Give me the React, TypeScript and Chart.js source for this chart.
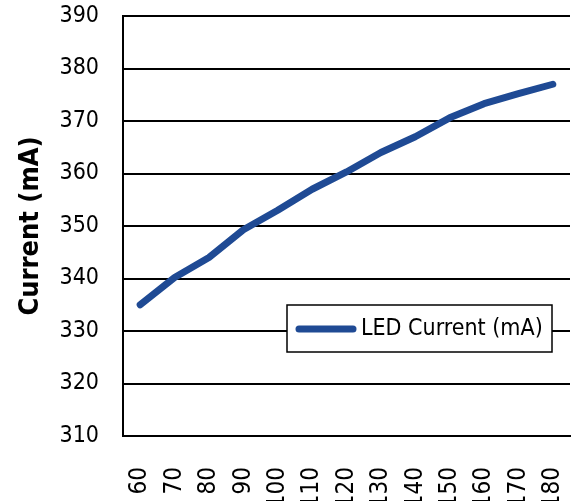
import React, { useEffect, useRef } from "react";
import { Chart, registerables } from "chart.js";

Chart.register(...registerables);

const categories = ["60", "70", "80", "90", "100", "110", "120", "130", "140", "150", "160", "170", "180"];
const currentValues = [335, 340.2, 344, 349.3, 353, 357, 360.3, 364, 367, 370.6, 373.3, 375.2, 377];
const seriesLabel = "LED Current (mA)";
const yAxisTitle = "Current (mA)";
const yMin = 310;
const yMax = 390;
const yStep = 10;

const FONT = "'Liberation Sans Narrow', 'DejaVu Sans Condensed', 'Arial Narrow', sans-serif";
const LINE_COLOR = "#1F4A94";

const legendBoxPlugin = {
  id: "legendBox",
  afterDraw(chart: any) {
    const ctx = chart.ctx;
    const x = 287, y = 305, w = 265, h = 47;
    ctx.save();
    ctx.fillStyle = "#ffffff";
    ctx.fillRect(x, y, w, h);
    ctx.strokeStyle = "#000000";
    ctx.lineWidth = 1.5;
    ctx.strokeRect(x, y, w, h);
    const ds = chart.data.datasets[0];
    ctx.strokeStyle = ds.borderColor;
    ctx.lineWidth = 7;
    ctx.lineCap = "round";
    ctx.beginPath();
    ctx.moveTo(x + 12, y + 24);
    ctx.lineTo(x + 66, y + 24);
    ctx.stroke();
    ctx.fillStyle = "#000000";
    ctx.font = `23px ${FONT}`;
    ctx.textBaseline = "middle";
    ctx.textAlign = "left";
    ctx.fillText(ds.label, x + 74, y + 24);
    ctx.restore();
  },
};

export default function App() {
  const canvasRef = useRef<HTMLCanvasElement | null>(null);

  useEffect(() => {
    if (!canvasRef.current) return;
    const chart = new Chart(canvasRef.current, {
      type: "line",
      data: {
        labels: categories,
        datasets: [
          {
            label: seriesLabel,
            data: currentValues,
            borderColor: LINE_COLOR,
            backgroundColor: LINE_COLOR,
            borderWidth: 7,
            borderCapStyle: "round",
            borderJoinStyle: "round",
            pointRadius: 0,
            tension: 0,
            fill: false,
          },
        ],
      },
      options: {
        animation: false,
        responsive: false,
        maintainAspectRatio: false,
        layout: { padding: { top: 16, left: 0, right: 1, bottom: 0 } },
        plugins: {
          legend: { display: false },
          tooltip: { enabled: false },
        },
        scales: {
          x: {
            type: "category",
            offset: true,
            grid: { display: false, drawTicks: false },
            border: { display: true, color: "#000000", width: 2 },
            ticks: {
              color: "#000000",
              font: { family: FONT, size: 24 },
              minRotation: 90,
              maxRotation: 90,
              padding: 31,
              autoSkip: false,
            },
            afterFit(scale: any) {
              scale.height = 65;
              scale.paddingLeft = 0;
              scale.paddingRight = 0;
            },
          },
          y: {
            min: yMin,
            max: yMax,
            grid: { color: "#000000", lineWidth: 2, drawTicks: false },
            border: { display: true, color: "#000000", width: 2 },
            ticks: {
              stepSize: yStep,
              color: "#000000",
              font: { family: FONT, size: 23 },
              padding: 24,
            },
            title: {
              display: true,
              text: yAxisTitle,
              color: "#000000",
              font: { family: FONT, size: 27, weight: "bold" },
              padding: { top: 15, bottom: 0 },
            },
            afterFit(scale: any) {
              scale.width = 123;
              scale.paddingTop = 0;
              scale.paddingBottom = 0;
            },
          },
        },
      },
      plugins: [legendBoxPlugin],
    });
    return () => chart.destroy();
  }, []);

  return (
    <div style={{ position: "absolute", left: 0, top: 0, width: 571, height: 501 }}>
      <canvas ref={canvasRef} width={571} height={501} style={{ display: "block" }} />
    </div>
  );
}
